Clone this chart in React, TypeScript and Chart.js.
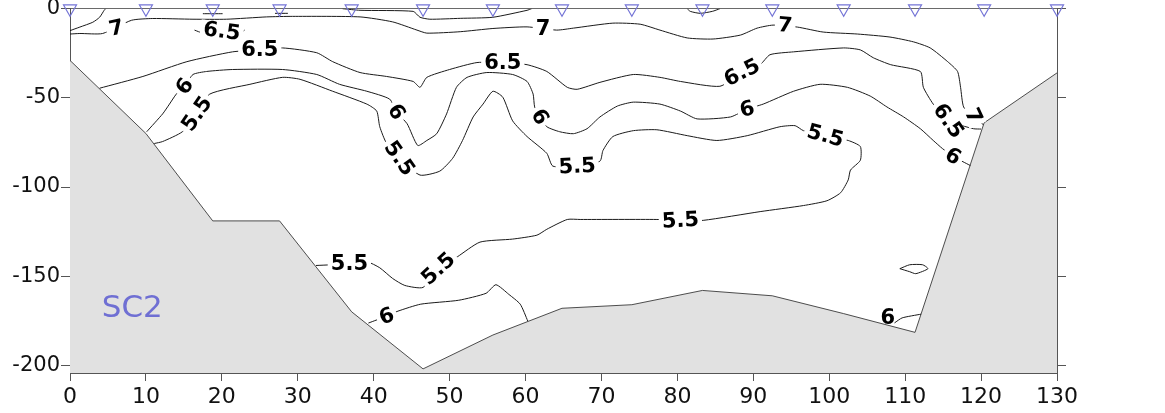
import React, { useEffect, useRef } from "react";
import { Chart, registerables } from "chart.js";
Chart.register(...registerables);

// ---- data (distance in km, depth in m) ----
const xTicks = [0, 10, 20, 30, 40, 50, 60, 70, 80, 90, 100, 110, 120, 130];
const yTicks = [0, -50, -100, -150, -200];

const stationX = [0, 10, 18.8, 27.6, 37.1, 46.5, 55.7, 64.8, 74, 83.3, 92.5, 101.9, 111.3, 120.4, 130];
const stationTop = [0, 0, 0, 0, 0, 0, 0, 0, 0, 0, 0, 0, 0, 0, 0];
const bottomDepth = [-29, -70, -119, -119, -170, -202, -183, -168, -166, -158, -161, -171, -181.5, -64, -36];

type P = [number, number];
const c7Corner: P[] = [[4.7, 0], [4.5, -0.9], [3.9, -4.8], [3.0, -7.6], [1.3, -10.3], [0, -12.3]];
const c7Main: P[] = [[0, -14.2], [1.3, -13.9], [4.3, -13.9], [8.1, -6.5], [10.9, -5.5], [16.2, -5.9], [20.6, -5.9], [25.9, -4.6], [29.3, -4.3], [38.2, -4.6], [42.5, -7.4], [45.7, -12], [47, -13.7], [51.4, -12.9], [55.7, -11.1], [60.2, -10.2], [64.1, -12], [66.3, -10.9], [71.5, -8.1], [75.1, -8.7], [77.7, -12], [81.3, -16.4], [84.7, -17], [88.3, -14.8], [90.5, -10.9], [92.6, -9.2], [95.8, -10.3], [99.2, -13.1], [103.7, -14.2], [108, -15.9], [111.1, -18.6], [113.3, -22], [115.6, -29.7], [116.9, -35.2], [117.3, -44.1], [117.7, -55.1], [119, -61], [120.3, -65]];
const c7Dip: P[] = [[35.9, 0], [38.2, -0.9], [45.2, -1.5], [46.1, -4.8], [47.4, -5.9], [51.4, -5.4], [55.7, -4.8], [60.2, -0.9], [60.8, 0]];
const c7Dip2: P[] = [[81.3, 0], [81.7, -1.5], [83, -2.6], [84.6, -1.5], [85.6, 0]];
const cTick1: P[] = [[17.5, -2.8], [20.1, -2.8]];
const cTick2: P[] = [[27, -2.6], [28.7, -2.6]];
const c65Small: P[] = [[16.4, -12], [17.5, -13.7], [20, -14.5], [22, -14.8], [23, -12]];
const c65: P[] = [[3.9, -44.6], [9.6, -38], [15.4, -29.7], [21.4, -24.2], [25, -23.1], [28, -22], [32.5, -24.7], [34.6, -29.7], [38.2, -35.8], [41.7, -38], [45.2, -40.8], [46.1, -44.1], [47, -38.5], [50, -34.1], [53.6, -30.2], [57, -30.2], [60.2, -31.4], [62.8, -35.2], [65.5, -44.1], [66.8, -45.2], [69.8, -41.3], [74.2, -36.9], [77.7, -38.5], [80.4, -40.8], [85.6, -43.5], [88.5, -35.8], [90.9, -31.4], [92.2, -25.8], [95.3, -24.2], [101.9, -22], [104.1, -23.1], [105.8, -27.5], [108.1, -31.4], [112, -35.2], [112.4, -44.1], [113.7, -53.5], [115.7, -62.9], [119, -67.3], [120, -67.5]];
const c6: P[] = [[10.1, -69], [12.2, -59], [13.1, -53.5], [14, -47.9], [15.1, -43.5], [16.2, -36.9], [18, -35.2], [21.4, -34.1], [28, -34.1], [32.5, -36.9], [35.5, -42.4], [39.1, -46.3], [42.1, -50.7], [43, -57.9], [44.4, -64.5], [45.8, -76.7], [47, -73.9], [48.3, -70.1], [49.6, -59], [50.9, -44.1], [52.3, -38.5], [54.9, -35.8], [58.3, -36.9], [60.2, -40.8], [61, -47.9], [61.2, -55.1], [61.9, -60.7], [62.8, -66.2], [64.5, -69], [66.3, -70.1], [68.1, -67.3], [69.8, -60.7], [72.1, -54.6], [74.2, -52.4], [77.7, -53.5], [80.4, -57.4], [82.6, -61.8], [87, -60.7], [89.2, -56.3], [91.3, -53.5], [95.3, -46.3], [98.8, -42.4], [102.4, -44.1], [105.4, -49], [107.6, -55.1], [109.8, -60.7], [112, -67.3], [113.7, -73.9], [114.9, -78.4], [116.3, -82.8], [118.6, -88]];
const c55: P[] = [[11.1, -75.6], [12.2, -74.5], [14.8, -69], [16.7, -59], [18.4, -47.9], [23.7, -42.4], [28, -38.5], [30.3, -39.6], [34.6, -46.3], [39.1, -53.5], [40.4, -57.4], [40.8, -66.2], [41.7, -75.6], [43.4, -83.9], [46.1, -93.3], [48.7, -91.1], [50.4, -83.9], [51.7, -73.9], [53.1, -60.7], [54.4, -53.5], [55.7, -46.3], [57, -49.6], [58.3, -62.9], [60.2, -71.7], [62.8, -81.1], [63.6, -88.3], [66.8, -88.3], [69.8, -85.5], [70.2, -79.5], [71.5, -71.7], [74.2, -68.4], [77.3, -67.9], [81.3, -71.2], [85.2, -73.9], [89.2, -71.2], [93.5, -66.2], [95.5, -65.6], [96.6, -68.4], [99.5, -71.2], [102.5, -73.9], [104.1, -77.3], [104.1, -85], [102.8, -90.5], [102.5, -96], [101.5, -103.2], [99.7, -107.7], [96.6, -110.4], [90.9, -113.8], [83.4, -118.7], [80.4, -118.7], [77.3, -118.2], [67.2, -118.2], [65.5, -118.2], [62.8, -123.7], [61.5, -127], [58.3, -129.2], [54, -130.9], [51, -139.2], [48.5, -145.8], [46.5, -156.3], [44.1, -155.2], [42.5, -151.3], [40.8, -145.3], [39.1, -141.9], [36.8, -143.1], [32.4, -144]];
const c6Bottom: P[] = [[39.3, -176.3], [41.7, -172.4], [43.2, -169.6], [46.2, -165.7], [51.2, -163.5], [54.8, -159.6], [56.1, -154.8], [57.8, -160.2], [59.3, -165.7], [60.3, -175.2]];
const c6Right: P[] = [[108.6, -176.2], [109.6, -173.4], [112.1, -171.3]];
const cLoop: P[] = [[109.3, -145.8], [110.6, -143.6], [112.3, -143.6], [113, -145.8], [111.4, -148.6], [110.6, -147.5], [109.3, -145.8]];

const contourLines: P[][] = [c7Corner, c7Main, c7Dip, c7Dip2, cTick1, cTick2, c65Small, c65, c6, c55, c6Bottom, c6Right, cLoop];

const labelText = ["7", "6.5", "6.5", "7", "7", "6.5", "6.5", "7", "6.5", "6", "5.5", "6", "5.5", "6", "5.5", "6", "5.5", "6", "5.5", "5.5", "5.5", "6", "6"];
const labelX = [6.1, 20, 25, 62.3, 94.2, 57, 88.5, 119, 115.7, 15.1, 16.7, 43, 43.4, 61.9, 66.8, 89.2, 99.5, 116.3, 80.4, 48.5, 36.8, 41.7, 107.7];
const labelY = [-10.9, -12.6, -23.1, -10.9, -9.2, -30.2, -35.8, -60.1, -62.9, -43.5, -59, -57.9, -83.9, -60.7, -88.3, -56.3, -71.2, -82.8, -118.7, -145.8, -143.1, -172.4, -173.4];
const labelAngle = [-12, 8, 0, 0, 5, 0, -27, 65, 55, -55, -55, 60, 55, 60, -3, -15, 15, 30, -3, -42, 0, -20, 0];
const labelBox = [1, 1, 1, 1, 1, 1, 1, 1, 1, 1, 1, 1, 1, 1, 1, 1, 1, 1, 1, 1, 1, 1, 0];

const sectionName = "SC2";
const sectionNameAt: P = [8.2, -168.6];

export default function App() {
  const ref = useRef<HTMLCanvasElement>(null);

  useEffect(() => {
    const canvas = ref.current;
    if (!canvas) return;

    const lineDs = (pts: P[]) => ({
      data: pts.map(([x, y]) => ({ x, y })),
      showLine: true,
      borderColor: "#1a1a1a",
      borderWidth: 1,
      pointRadius: 0,
      fill: false,
      tension: 0.2,
    });

    const labelPlugin = {
      id: "contourLabels",
      afterDatasetsDraw(chart: any) {
        const c = chart.ctx;
        const xs = chart.scales.x;
        const ys = chart.scales.y;
        c.save();
        c.font = "bold 21px 'DejaVu Sans'";
        c.textAlign = "center";
        c.textBaseline = "middle";
        labelText.forEach((t, i) => {
          const px = xs.getPixelForValue(labelX[i]);
          const py = ys.getPixelForValue(labelY[i]);
          c.save();
          c.translate(px, py);
          c.rotate((labelAngle[i] * Math.PI) / 180);
          const w = c.measureText(t).width;
          if (labelBox[i]) {
            c.fillStyle = "#ffffff";
            c.fillRect(-w / 2 - 3, -9, w + 6, 18);
          }
          c.fillStyle = "#000000";
          c.fillText(t, 0, 1);
          c.restore();
        });
        c.font = "31px 'DejaVu Sans'";
        c.fillStyle = "#6f6fd3";
        c.fillText(sectionName, xs.getPixelForValue(sectionNameAt[0]), ys.getPixelForValue(sectionNameAt[1]));
        c.restore();
      },
    };

    const noPad = (s: any) => {
      s.paddingTop = 0;
      s.paddingBottom = 0;
      s.paddingLeft = 0;
      s.paddingRight = 0;
    };

    const axisColor = "#555555";

    const chart = new Chart(canvas, {
      type: "scatter",
      data: {
        datasets: [
          {
            data: stationX.map((x, i) => ({ x, y: stationTop[i] })),
            showLine: false,
            pointStyle: "triangle",
            rotation: 180,
            pointRadius: 7.5,
            borderColor: "#7474d6",
            backgroundColor: "rgba(0,0,0,0)",
            borderWidth: 1.2,
            clip: false,
          } as any,
          ...contourLines.map(lineDs),
          {
            data: stationX.map((x, i) => ({ x, y: bottomDepth[i] })),
            showLine: true,
            borderColor: "#3a3a3a",
            borderWidth: 0.9,
            backgroundColor: "#e1e1e1",
            pointRadius: 0,
            fill: "start",
            tension: 0,
          } as any,
        ],
      },
      options: {
        animation: false,
        responsive: false,
        devicePixelRatio: 1,
        events: [],
        layout: { padding: 0 },
        plugins: { legend: { display: false }, tooltip: { enabled: false } },
        scales: {
          x: {
            type: "linear",
            position: "bottom",
            min: 0,
            max: 130,
            z: 1,
            afterBuildTicks: (s: any) => {
              s.ticks = xTicks.map((v) => ({ value: v }));
            },
            afterFit: (s: any) => {
              s.height = 40;
              noPad(s);
            },
            ticks: { font: { family: "'DejaVu Sans'", size: 22 }, color: "#111", padding: 3, maxRotation: 0, autoSkip: false },
            grid: { drawOnChartArea: false, drawTicks: true, tickLength: 8, color: axisColor },
            border: { display: true, color: axisColor, width: 1 },
          },
          x2: {
            type: "linear",
            position: "top",
            min: 0,
            max: 130,
            z: 1,
            afterFit: (s: any) => {
              s.height = 3;
              noPad(s);
            },
            ticks: { display: false },
            grid: { drawOnChartArea: false, drawTicks: false, color: axisColor },
            border: { display: true, color: "#6a6a6a", width: 1 },
          },
          y: {
            type: "linear",
            position: "left",
            min: -204.3,
            max: 0,
            z: 1,
            afterBuildTicks: (s: any) => {
              s.ticks = yTicks.map((v) => ({ value: v }));
            },
            afterFit: (s: any) => {
              s.width = 70;
              noPad(s);
            },
            ticks: { font: { family: "'DejaVu Sans'", size: 21 }, color: "#111", padding: 1 },
            grid: { drawOnChartArea: false, drawTicks: true, tickLength: 9, color: axisColor },
            border: { display: true, color: axisColor, width: 1 },
          },
          y2: {
            type: "linear",
            position: "right",
            min: -204.3,
            max: 0,
            z: 1,
            afterBuildTicks: (s: any) => {
              s.ticks = yTicks.map((v) => ({ value: v }));
            },
            afterFit: (s: any) => {
              s.width = 108;
              noPad(s);
            },
            ticks: { display: false },
            grid: { drawOnChartArea: false, drawTicks: true, tickLength: 9, color: axisColor },
            border: { display: true, color: axisColor, width: 1 },
          },
        },
      } as any,
      plugins: [labelPlugin],
    });

    return () => chart.destroy();
  }, []);

  return (
    <div style={{ position: "absolute", left: 0, top: 0, width: 1165, height: 413, background: "#ffffff" }}>
      <canvas ref={ref} width={1165} height={413} style={{ display: "block", width: 1165, height: 413 }} />
    </div>
  );
}
